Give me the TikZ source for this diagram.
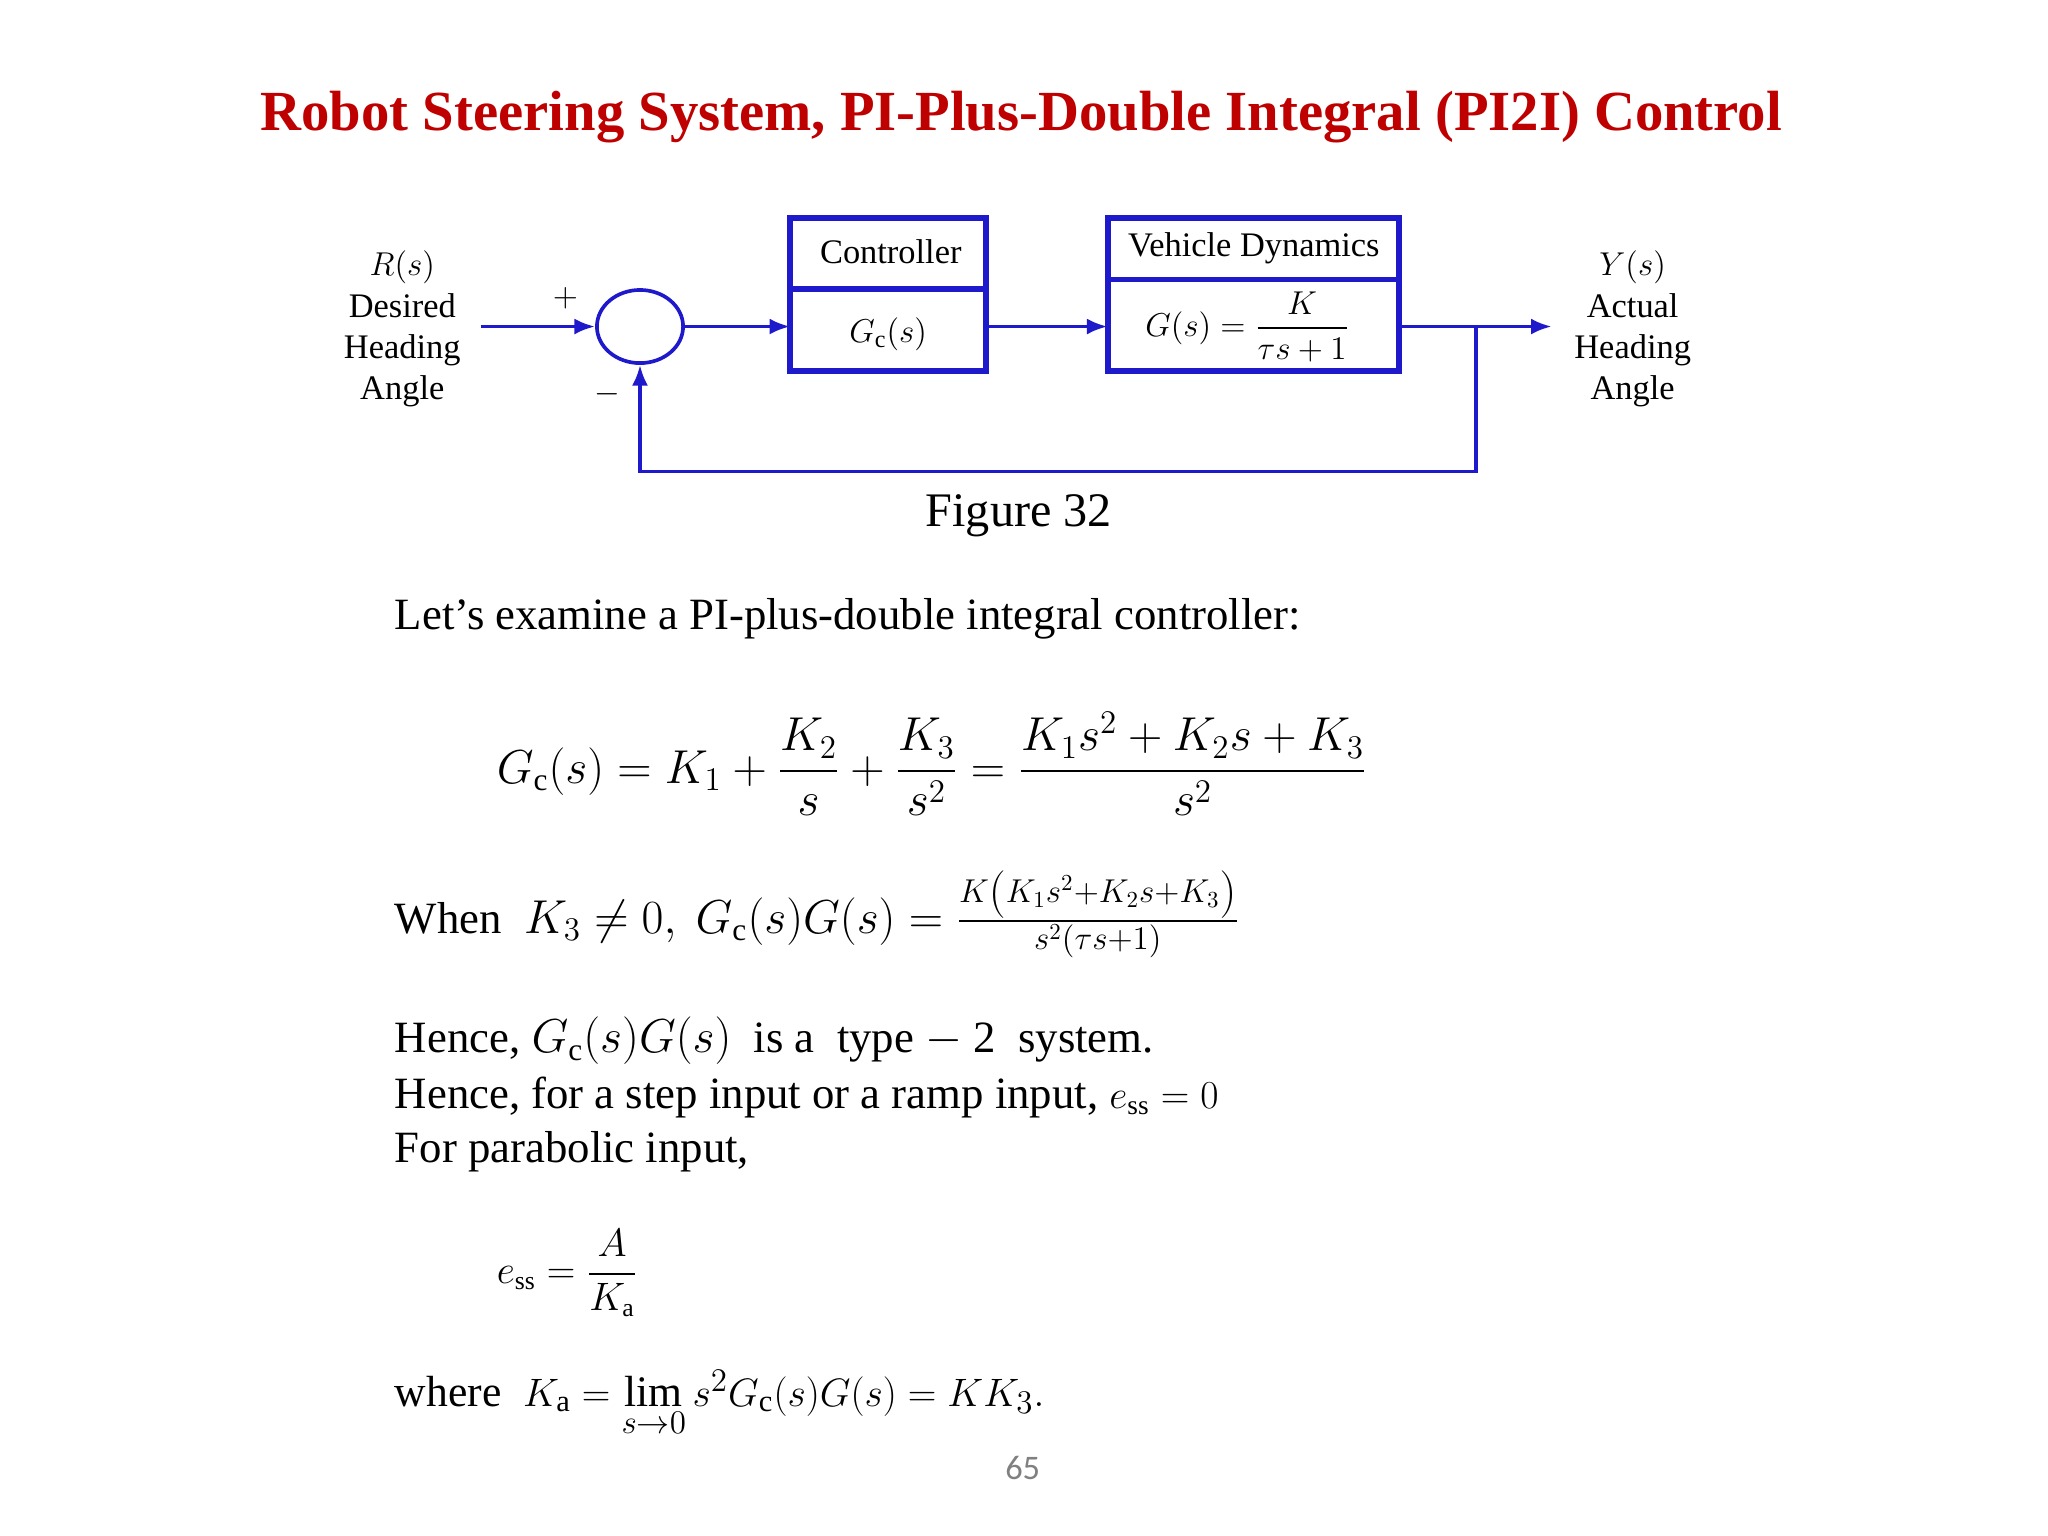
\documentclass[tikz,border=0pt]{standalone}
\usepackage{amsmath}
\usepackage{fontspec}
\setmainfont{Liberation Serif}
\setsansfont{Carlito}
\usetikzlibrary{arrows.meta,shapes.geometric}
\definecolor{bl}{rgb}{0.12,0.1,0.8}
\definecolor{tr}{rgb}{0.75,0,0}
\tikzset{
 ln/.style={bl,line width=1.6pt},
 arr/.style={ln,-{Latex[length=9pt,width=7pt]}},
 blk/.style={draw=bl,line width=2.6pt},
 lab/.style={align=center,font=\fontsize{15}{18}\selectfont},
 body/.style={anchor=west,font=\fontsize{19.5}{24}\selectfont,inner sep=0pt}
}
\begin{document}
\begin{tikzpicture}[x=0.02cm,y=-0.02cm]
\useasboundingbox (0,0) rectangle (1568,1176);
\node[font=\fontsize{24.7}{30}\selectfont\bfseries,text=tr] (title) at (782,90) {Robot Steering System, PI-Plus-Double Integral (PI2I) Control};
\node[lab] (R) at (308,252) {$R(s)$\\Desired\\Heading\\Angle};
\node[lab] (Y) at (1250,252) {$Y(s)$\\Actual\\Heading\\Angle};
\coordinate (rin) at (368,250);
\node[draw=bl,line width=1.6pt,ellipse,inner sep=0pt,minimum width=1.32cm,minimum height=1.12cm] (sum) at (490,250) {};
\node[lab] (plus) at (433,228) {$+$};
\node[lab] (minus) at (465,302) {$-$};
\draw[blk] (605,167) rectangle (755,284);
\draw[blk] (605,221) -- (755,221);
\node[lab] (c1) at (682,193) {Controller};
\node[lab] (c2) at (680,256) {$G_{\mathrm{c}}(s)$};
\draw[blk] (848,167) rectangle (1071,284);
\draw[blk] (848,214) -- (1071,214);
\node[lab] (v1) at (960,190) {Vehicle Dynamics};
\node[lab] (v2) at (955,250) {$G(s)=\dfrac{K}{\tau s+1}$};
\coordinate (cin) at (605,250); \coordinate (cout) at (755,250);
\coordinate (vin) at (848,250); \coordinate (vout) at (1071,250);
\coordinate (yo) at (1188,250); \coordinate (tap) at (1130,250);
\coordinate (fb1) at (1130,361); \coordinate (fb2) at (490,361);
\draw[arr] (rin) -- (sum.west);
\draw[arr] (sum.east) -- (cin);
\draw[arr] (cout) -- (vin);
\draw[arr] (vout) -- (yo);
\draw[arr] (tap) -- (fb1) -- (fb2) -- (sum.south);
\node[font=\fontsize{21}{26}\selectfont] (fig) at (780,395) {Figure 32};
\node[body] (t1) at (302,474) {Let’s examine a PI-plus-double integral controller:};
\node[body,font=\fontsize{19.5}{24}\selectfont] (eq1) at (380,585) {$G_{\mathrm{c}}(s)=K_1+\dfrac{K_2}{s}+\dfrac{K_3}{s^2}=\dfrac{K_1s^2+K_2s+K_3}{s^2}$};
\node[body] (t2) at (302,700) {When\ \ $K_3\neq0,\ G_{\mathrm{c}}(s)G(s)=\frac{K\left(K_1s^2+K_2s+K_3\right)}{s^2(\tau s+1)}$};
\node[body] (t3) at (302,797) {Hence, $G_{\mathrm{c}}(s)G(s)$\ \ is a\ \ type $-$ 2\ \ system.};
\node[body] (t4) at (302,840) {Hence, for a step input or a ramp input, {\fontsize{17}{20}\selectfont$e_{\mathrm{ss}}=0$}};
\node[body] (t5) at (302,882) {For parabolic input,};
\node[body,font=\fontsize{16}{20}\selectfont] (t6) at (380,975) {$e_{\mathrm{ss}}=\dfrac{A}{K_{\mathrm{a}}}$};
\node[body,font=\fontsize{19}{24}\selectfont] (t7) at (302,1075) {where\ \ $K_{\mathrm{a}}=\lim\limits_{s\to0}s^2G_{\mathrm{c}}(s)G(s)=KK_3.$};
\node[font=\sffamily\fontsize{15}{18}\selectfont,text=gray] (pg) at (783,1124) {65};
\end{tikzpicture}
\end{document}
